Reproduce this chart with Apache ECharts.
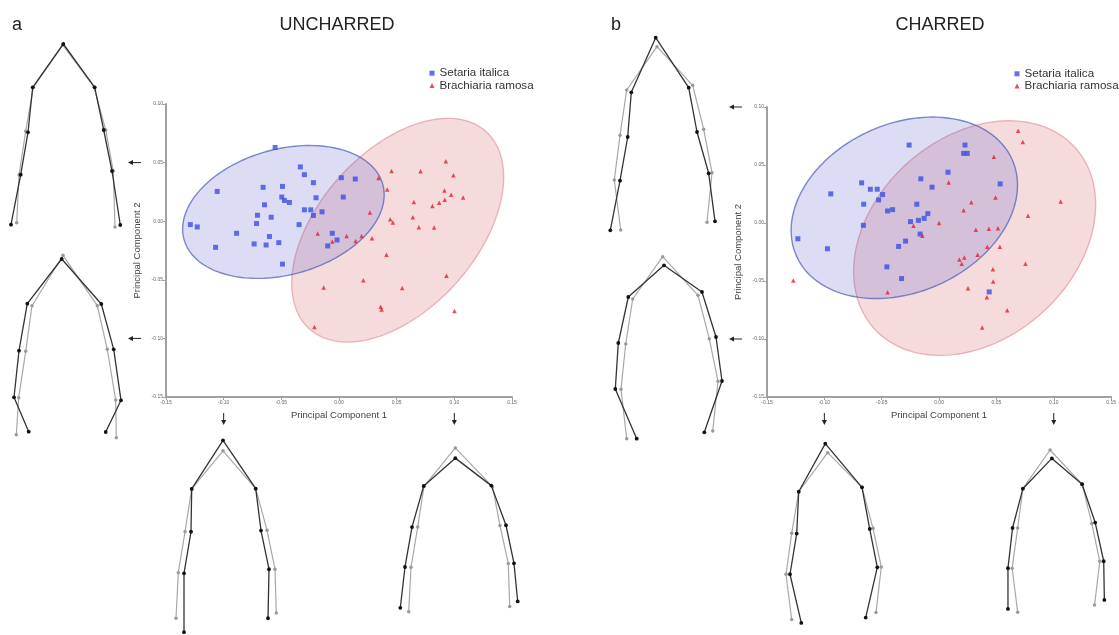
<!DOCTYPE html>
<html><head><meta charset="utf-8">
<script src="https://cdn.jsdelivr.net/npm/echarts@6/dist/echarts.min.js"></script>
<style>html,body{margin:0;padding:0;background:#fff}#c{width:1119px;height:635px}</style>
</head><body><div id="c"></div>
<script>
const speciesNames = ['Setaria italica', 'Brachiaria ramosa'];
const panelTitles = ['UNCHARRED', 'CHARRED'];
const panelLetters = ['a', 'b'];
const axisNames = ['Principal Component 1', 'Principal Component 2'];
const xRange = [-0.15, 0.15];
const yRange = [-0.15, 0.10];
const tickStep = 0.05;

// PCA scores (PC1, PC2)
const uncharredSetaria = [[-0.0554,0.0629],[-0.0335,0.0463],[-0.0300,0.0397],[-0.0222,0.0329],[0.0020,0.0371],[0.0141,0.0360],[-0.1056,0.0254],[-0.0658,0.0289],[-0.0490,0.0297],[-0.0496,0.0206],[-0.0473,0.0177],[-0.0430,0.0160],[-0.0199,0.0200],[0.0037,0.0206],[-0.0646,0.0140],[-0.0707,0.0051],[-0.0588,0.0034],[-0.0300,0.0097],[-0.0245,0.0097],[-0.0222,0.0049],[-0.0147,0.0080],[-0.1289,-0.0029],[-0.1229,-0.0049],[-0.0715,-0.0020],[-0.0346,-0.0029],[-0.0888,-0.0103],[-0.0603,-0.0131],[-0.1070,-0.0223],[-0.0736,-0.0194],[-0.0632,-0.0203],[-0.0522,-0.0183],[-0.0490,-0.0366],[-0.0058,-0.0103],[-0.0017,-0.0160],[-0.0098,-0.0211]];
const uncharredBrachiaria = [[0.0926,0.0511],[0.0456,0.0429],[0.0707,0.0426],[0.0992,0.0391],[0.0343,0.0369],[0.0418,0.0271],[0.0914,0.0263],[0.0972,0.0226],[0.1076,0.0203],[0.0917,0.0183],[0.0868,0.0157],[0.0649,0.0163],[0.0810,0.0129],[0.0268,0.0074],[0.0640,0.0034],[0.0444,0.0017],[0.0467,-0.0011],[0.0692,-0.0051],[0.0825,-0.0054],[-0.0185,-0.0106],[0.0066,-0.0126],[-0.0058,-0.0174],[0.0144,-0.0169],[0.0196,-0.0126],[0.0286,-0.0146],[0.0412,-0.0286],[0.0932,-0.0466],[0.0211,-0.0503],[-0.0133,-0.0566],[0.0548,-0.0571],[0.0361,-0.0731],[0.0369,-0.0754],[0.1001,-0.0766],[-0.0213,-0.0903]];
const charredSetaria = [[-0.0261,0.0672],[0.0226,0.0672],[0.0214,0.0600],[0.0246,0.0600],[0.0078,0.0438],[-0.0159,0.0381],[-0.0061,0.0309],[0.0533,0.0337],[-0.0675,0.0346],[-0.0599,0.0291],[-0.0539,0.0291],[-0.0492,0.0245],[-0.0944,0.0251],[-0.0527,0.0199],[-0.0657,0.0162],[-0.0194,0.0162],[-0.0449,0.0104],[-0.0405,0.0115],[-0.0098,0.0081],[-0.0130,0.0040],[-0.0180,0.0023],[-0.0249,0.0012],[-0.0660,-0.0020],[-0.0165,-0.0095],[-0.1231,-0.0136],[-0.0292,-0.0156],[-0.0353,-0.0202],[-0.0973,-0.0222],[-0.0455,-0.0378],[-0.0327,-0.0479],[0.0437,-0.0594]];
const charredBrachiaria = [[0.0689,0.0796],[0.0730,0.0698],[0.0478,0.0571],[0.0084,0.0349],[0.0492,0.0219],[0.0281,0.0179],[0.1060,0.0185],[0.0214,0.0110],[0.0776,0.0063],[0.0000,0.0000],[-0.0223,-0.0023],[-0.0145,-0.0110],[0.0321,-0.0058],[0.0434,-0.0049],[0.0513,-0.0046],[0.0420,-0.0205],[0.0530,-0.0205],[0.0336,-0.0274],[0.0220,-0.0297],[0.0177,-0.0314],[0.0197,-0.0352],[0.0753,-0.0352],[0.0469,-0.0398],[0.0472,-0.0505],[0.0252,-0.0562],[0.0417,-0.0640],[0.0594,-0.0753],[0.0376,-0.0900],[-0.0449,-0.0597],[-0.1271,-0.0496]];

// 95% ellipses: [centre PC1, centre PC2, semi-major, semi-minor, angle deg]
const ellipseUnchSetaria = [-0.0482, 0.0079, 0.0893, 0.0536, 15.0];
const ellipseUnchBrachiaria = [0.0509, -0.0077, 0.1138, 0.0678, 47.3];
const ellipseCharSetaria = [-0.0303, 0.0131, 0.1028, 0.0727, 23.4];
const ellipseCharBrachiaria = [0.0310, -0.0130, 0.1173, 0.0872, 40.8];

// arrow positions on the PC axes
const arrowPC1 = [-0.10, 0.10];
const arrowPC2Unch = [0.05, -0.10];
const arrowPC2Char = [0.10, -0.10];

// landmark outlines (local units), order: left base .. apex .. right base
const shapeA1Black = [[6,189.7],[15.7,139.7],[23,97.3],[27.7,52.3],[58.3,9],[89.7,52.3],[98.7,95],[107,136],[115.3,190]];
const shapeA1Grey  = [[11.7,187.7],[14,140],[20.7,96.3],[28.3,52.3],[57.7,10],[89,52],[100.7,95],[108.3,136],[110,192]];
const shapeA2Black = [[23.7,181.7],[9,147.3],[14,100.7],[22.3,53.7],[56.7,9],[96.3,54],[108.7,99.3],[116,150.3],[100.7,182]];
const shapeA2Grey  = [[11.3,184.7],[13.7,147.7],[20.7,101.3],[27,55.7],[58,5.3],[92.3,55.7],[102.3,99.3],[110.7,150],[111.3,187.7]];
const shapeA3Black = [[14,212],[14,148.7],[21,104],[21.7,58],[53,5.7],[85.7,57.7],[91,102.7],[99,144.3],[98,197]];
const shapeA3Grey  = [[6,197],[8.3,148],[15,104],[21.7,58],[53,17],[85.7,57.7],[97,102.3],[105,144.3],[106.3,191.3]];
const shapeA4Black = [[5.3,185],[10,140],[17,96],[28.7,50.7],[60.3,20],[96.3,50.3],[111,94],[119,136],[122.7,178]];
const shapeA4Grey  = [[13.7,189.3],[16,140.3],[22.7,96],[29,51],[60.3,8.7],[97.5,51.5],[105,94.3],[113.3,136.3],[114.7,183.7]];
const shapeB1Black = [[5.3,200.3],[15,150.7],[22.7,107],[26.3,62.3],[50.7,7.7],[83.7,57.7],[92,102],[103.7,143.3],[110,191.3]];
const shapeB1Grey  = [[15.7,200],[9.3,150],[15,105.3],[21.7,60],[52,16.7],[87.7,55.3],[98.7,99.3],[107,142.7],[102,192.3]];
const shapeB2Black = [[26.7,188.7],[5.3,139],[8.3,93],[18.3,47],[54,15.3],[92,42],[106,87],[112,131],[94.3,182.3]];
const shapeB2Grey  = [[16.7,188.7],[11,139.3],[15.7,94],[22.7,49],[52.7,6.7],[88,45.3],[99.3,88.7],[108,131.3],[102.7,181]];
const shapeB3Black = [[21.3,202],[10,149.7],[16.7,106],[18.7,61],[45.3,9.3],[82,56.3],[89.7,101],[97.3,142.3],[85.7,196.3]];
const shapeB3Grey  = [[11.7,198.3],[6,149.7],[11.7,105.7],[18.7,61],[47.7,19],[82,56.3],[93,100.3],[101.3,142],[96,190.7]];
const shapeB4Black = [[8.7,186.3],[8.7,141.3],[13.7,97],[25,53.7],[56.7,20.3],[89.7,48.7],[104,91],[113.3,133.7],[114,176.3]];
const shapeB4Grey  = [[19.3,190],[13.3,141.3],[19.3,97],[25,53.7],[54.7,11],[89.7,48.7],[100.3,92],[109,133.7],[103.3,182]];

const FONT = 'Liberation Sans, Arial, Helvetica, sans-serif';
const BLUE = '#3b4fe2', RED = '#e3232b';

const chart = echarts.init(document.getElementById('c'), null, {renderer: 'canvas'});

const grids = [
  {left: 166, top: 104, width: 346, height: 293},
  {left: 767, top: 107, width: 346, height: 290}
];
const shapeBoxes = [
  [5, 35], [5, 250], [170, 435], [395, 440],
  [605, 30], [610, 250], [780, 435], [1000, 440]
];
const shapeW = 130, shapeH = 215;
const shapePairs = [
  [shapeA1Black, shapeA1Grey], [shapeA2Black, shapeA2Grey], [shapeA3Black, shapeA3Grey], [shapeA4Black, shapeA4Grey],
  [shapeB1Black, shapeB1Grey], [shapeB2Black, shapeB2Grey], [shapeB3Black, shapeB3Grey], [shapeB4Black, shapeB4Grey]
];

const gridOpt = grids.map(g => Object.assign({containLabel: false}, g));
shapeBoxes.forEach(b => gridOpt.push({left: b[0], top: b[1], width: shapeW, height: shapeH}));

const xAxes = [], yAxes = [];
for (let i = 0; i < 2; i++) {
  const common = {
    type: 'value', gridIndex: i, interval: tickStep,
    axisLine: {show: true, onZero: false, lineStyle: {color: '#a0a0a0', width: 2}},
    axisTick: {show: true, length: 3, lineStyle: {color: '#a0a0a0', width: 1}},
    axisLabel: {fontSize: 5, color: '#666', fontFamily: FONT, margin: 3, formatter: v => v.toFixed(2)},
    splitLine: {show: false},
    nameTextStyle: {fontSize: 9.5, color: '#444', fontFamily: FONT},
    nameLocation: 'middle'
  };
  xAxes.push(Object.assign({}, common, {min: xRange[0], max: xRange[1], name: axisNames[0], nameGap: 13}));
  yAxes.push(Object.assign({}, common, {min: yRange[0], max: yRange[1], name: axisNames[1], nameGap: 24}));
}
for (let k = 0; k < shapeBoxes.length; k++) {
  xAxes.push({type: 'value', gridIndex: k + 2, min: 0, max: shapeW, show: false});
  yAxes.push({type: 'value', gridIndex: k + 2, min: 0, max: shapeH, inverse: true, show: false});
}

function ellipseRender(fill, stroke) {
  return function (params, api) {
    const cx = api.value(0), cy = api.value(1), a = api.value(2), b = api.value(3);
    const ang = api.value(4) * Math.PI / 180;
    const pts = [];
    const n = 160;
    for (let i = 0; i < n; i++) {
      const t = i / n * 2 * Math.PI;
      const dx = a * Math.cos(t), dy = b * Math.sin(t);
      pts.push(api.coord([cx + dx * Math.cos(ang) - dy * Math.sin(ang), cy + dx * Math.sin(ang) + dy * Math.cos(ang)]));
    }
    return {type: 'polygon', shape: {points: pts}, style: {fill: fill, stroke: stroke, lineWidth: 1.4}};
  };
}

const series = [];
const panels = [
  {setaria: uncharredSetaria, brach: uncharredBrachiaria, eS: ellipseUnchSetaria, eB: ellipseUnchBrachiaria},
  {setaria: charredSetaria, brach: charredBrachiaria, eS: ellipseCharSetaria, eB: ellipseCharBrachiaria}
];
panels.forEach((p, i) => {
  series.push({type: 'custom', xAxisIndex: i, yAxisIndex: i, silent: true, z: 1,
    renderItem: ellipseRender('rgba(214,90,100,0.22)', 'rgba(220,130,140,0.55)'), data: [p.eB]});
  series.push({type: 'custom', xAxisIndex: i, yAxisIndex: i, silent: true, z: 2,
    renderItem: ellipseRender('rgba(80,80,205,0.20)', 'rgba(80,100,180,0.75)'), data: [p.eS]});
  series.push({type: 'scatter', name: speciesNames[0], xAxisIndex: i, yAxisIndex: i, z: 5,
    symbol: 'rect', symbolSize: 5, itemStyle: {color: BLUE}, data: p.setaria});
  series.push({type: 'scatter', name: speciesNames[1], xAxisIndex: i, yAxisIndex: i, z: 5,
    symbol: 'triangle', symbolSize: 4.5, itemStyle: {color: RED}, data: p.brach});
});
shapePairs.forEach((pair, k) => {
  series.push({type: 'line', xAxisIndex: k + 2, yAxisIndex: k + 2, data: pair[1], z: 3,
    symbol: 'circle', symbolSize: 3.5, lineStyle: {color: '#a8a8a8', width: 1.2},
    itemStyle: {color: '#9a9a9a'}, silent: true, animation: false});
  series.push({type: 'line', xAxisIndex: k + 2, yAxisIndex: k + 2, data: pair[0], z: 4,
    symbol: 'circle', symbolSize: 3.8, lineStyle: {color: '#333', width: 1.3},
    itemStyle: {color: '#111'}, silent: true, animation: false});
});

const legendBase = {
  orient: 'vertical', itemWidth: 5, itemHeight: 5, itemGap: 0.3, selectedMode: false,
  textStyle: {fontSize: 11.6, color: '#333', fontFamily: FONT},
  data: [{name: speciesNames[0], icon: 'rect'}, {name: speciesNames[1], icon: 'triangle'}]
};

chart.setOption({
  animation: false,
  grid: gridOpt,
  xAxis: xAxes,
  yAxis: yAxes,
  legend: [
    Object.assign({}, legendBase, {left: 424.5, top: 62.2}),
    Object.assign({}, legendBase, {left: 1009.5, top: 62.8})
  ],
  series: series
});

// annotations (titles, arrows)
const graphics = [];
function txt(x, y, s, size, align) {
  graphics.push({type: 'text', x: x, y: y,
    style: {text: s, fontSize: size, fontFamily: FONT, fill: '#222', textAlign: align, textVerticalAlign: 'middle'}});
}
txt(17, 25, panelLetters[0], 18, 'center');
txt(337, 25, panelTitles[0], 18, 'center');
txt(616, 25, panelLetters[1], 18, 'center');
txt(940, 25, panelTitles[1], 18, 'center');

function arrowLeft(x1, x2, y) {
  graphics.push({type: 'line', shape: {x1: x1, y1: y, x2: x2 + 3, y2: y}, style: {stroke: '#222', lineWidth: 1}});
  graphics.push({type: 'polygon', shape: {points: [[x2, y], [x2 + 5, y - 2.5], [x2 + 5, y + 2.5]]}, style: {fill: '#222'}});
}
function arrowDown(x, y1, y2) {
  graphics.push({type: 'line', shape: {x1: x, y1: y1, x2: x, y2: y2 - 3}, style: {stroke: '#222', lineWidth: 1}});
  graphics.push({type: 'polygon', shape: {points: [[x, y2], [x - 2.5, y2 - 5], [x + 2.5, y2 - 5]]}, style: {fill: '#222'}});
}
const arrowY = [arrowPC2Unch, arrowPC2Char];
for (let i = 0; i < 2; i++) {
  const g = grids[i];
  arrowY[i].forEach(v => {
    const py = chart.convertToPixel({xAxisIndex: i, yAxisIndex: i}, [0, v])[1];
    arrowLeft(g.left - 25, g.left - 38, py);
  });
  arrowPC1.forEach(v => {
    const px = chart.convertToPixel({xAxisIndex: i, yAxisIndex: i}, [v, 0])[0];
    arrowDown(px, g.top + g.height + 16, g.top + g.height + 28);
  });
}
chart.setOption({graphic: graphics});
</script>
</body></html>
